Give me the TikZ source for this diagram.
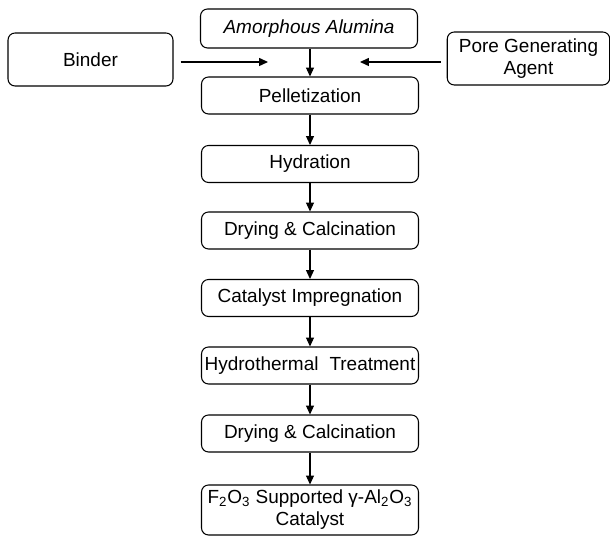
\documentclass[tikz,border=0pt]{standalone}
\usepackage{fontspec}
\setmainfont{Liberation Sans}
\usetikzlibrary{arrows.meta}
\usetikzlibrary{positioning}

\begin{document}
\begin{tikzpicture}[x=0.02cm, y=-0.02cm,
    stepbox/.style={draw=black, line width=0.6pt, rounded corners=4pt, align=center,
        minimum width=4.34cm, minimum height=0.74cm, inner sep=1pt,
        font=\fontsize{10.8}{12.5}\selectfont},
    sidebox/.style={stepbox, minimum width=3.25cm, minimum height=1.06cm},
    flow/.style={line width=0.6pt, -{Triangle[length=5pt,width=4.5pt]}}]
\useasboundingbox (0,0) rectangle (610,536);
            \node[stepbox, minimum height=0.78cm] (alumina) at (309,28.5) {\textit{Amorphous Alumina}};
\node[sidebox, minimum width=3.3cm] (binder) at (90.5,59.5) {Binder};
\node[sidebox] (pga) at (528.5,58.5) {Pore Generating\\Agent};
\node[stepbox] (pellet) at (310,95.5) {Pelletization};
\node[stepbox] (hydra) at (310,164) {Hydration};
\node[stepbox] (dry1) at (310,230.5) {Drying \& Calcination};
\node[stepbox] (impreg) at (310,298) {Catalyst Impregnation};
\node[stepbox] (hydro) at (310,365.5) {Hydrothermal\hspace{0.3em} Treatment};
\node[stepbox] (dry2) at (310,433.5) {Drying \& Calcination};
\node[stepbox, minimum height=1cm, inner sep=0pt] (catalyst) at (310,510)
    {F\textsubscript{2}O\textsubscript{3} Supported γ-Al\textsubscript{2}O\textsubscript{3}\\Catalyst};
\coordinate (binder-in) at (268,62);
\coordinate (pga-in) at (360,62);
\draw[flow] ([xshift=7*0.02cm]binder.east |- binder-in) -- (binder-in);
\draw[flow] ([xshift=-6*0.02cm]pga.west |- pga-in) -- (pga-in);
\foreach \a/\b in {alumina/pellet, pellet/hydra, hydra/dry1, dry1/impreg, impreg/hydro, hydro/dry2, dry2/catalyst}
    \draw[flow] (\a.south -| pellet.center) -- (\b.north -| pellet.center);
        \end{tikzpicture}
\end{document}
